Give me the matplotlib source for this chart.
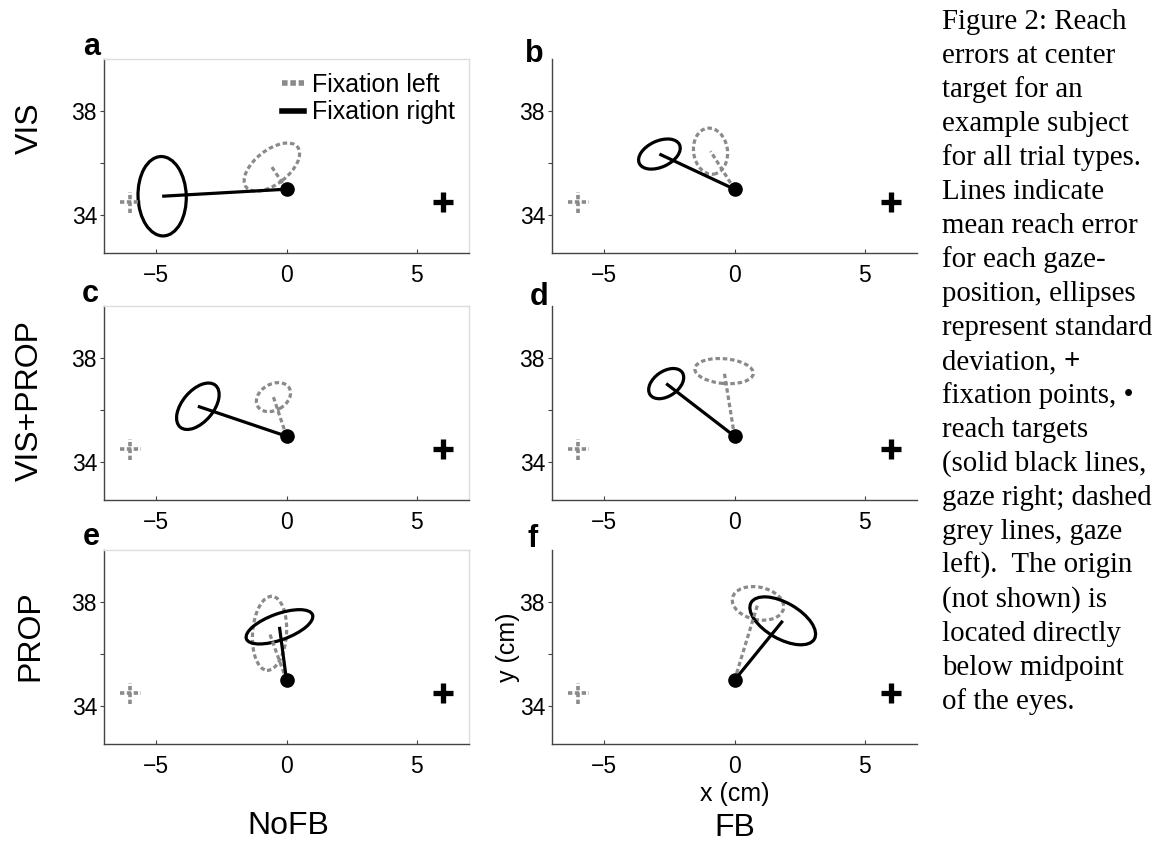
import matplotlib
matplotlib.use("Agg")
import matplotlib.pyplot as plt
from matplotlib.patches import Ellipse
from matplotlib.lines import Line2D

W, H = 1163, 841
plt.rcParams['font.family'] = ['Liberation Sans', 'DejaVu Sans']

# ---------------- data ----------------
panel_letters = ['a', 'b', 'c', 'd', 'e', 'f']
row_labels = ['VIS', 'VIS+PROP', 'PROP']
col_labels = ['NoFB', 'FB']

target_x, target_y = 0.0, 35.0
fix_left_x, fix_left_y = -6.0, 34.5
fix_right_x, fix_right_y = 6.0, 34.5

# Fixation right (solid black): mean reach endpoint and SD ellipse
right_mean_x = [-4.77, -2.88, -3.40, -2.62, -0.27, 1.85]
right_mean_y = [34.73, 36.35, 36.15, 37.02, 37.05, 37.28]
right_ell_w = [1.85, 1.70, 2.10, 1.50, 2.70, 2.80]
right_ell_h = [3.05, 1.00, 1.20, 0.95, 1.00, 1.38]
right_ell_ang = [2, 25, 50, 35, 20, -30]

# Fixation left (dashed grey)
left_mean_x = [-0.56, -0.92, -0.50, -0.40, -0.65, 0.90]
left_mean_y = [35.85, 36.46, 36.50, 37.50, 36.80, 37.95]
left_ell_w = [2.50, 1.30, 1.40, 2.25, 1.30, 2.00]
left_ell_h = [1.30, 1.78, 1.00, 0.95, 2.85, 1.25]
left_ell_ang = [38, 8, 30, -5, -4, -12]

x_ticks = [-5, 0, 5]
y_ticks = [34, 36, 38]
y_ticklabels = ['34', '', '38']

caption_lines = [
    "Figure 2: Reach", "errors at center", "target for an", "example subject",
    "for all trial types.", "Lines indicate", "mean reach error", "for each gaze-",
    "position, ellipses", "represent standard", "deviation,", "fixation points, \u2022",
    "reach targets", "(solid black lines,", "gaze right; dashed", "grey lines, gaze",
    "left).  The origin", "(not shown) is", "located directly", "below midpoint",
    "of the eyes.",
]

# ---------------- style ----------------
GREY = '#8a8a8a'
LW = 2.3
DASH = (0, (1.4, 0.9))

fig = plt.figure(figsize=(W / 100, H / 100), dpi=100)

col_x = [104, 552]
row_top = [59, 306, 550]
ax_w, ax_h = 365, 194


def fx(x):
    return x / W


def fy(y):
    return 1 - y / H


axes = []
for i in range(6):
    r, c = divmod(i, 2)
    ax = fig.add_axes([fx(col_x[c]), fy(row_top[r] + ax_h), ax_w / W, ax_h / H])
    ax.set_xlim(-7, 7)
    ax.set_ylim(32.55, 40.0)
    ax.set_xticks(x_ticks)
    ax.set_xticklabels(['\u22125', '0', '5'])
    ax.set_yticks(y_ticks)
    ax.set_yticklabels(y_ticklabels)
    ax.tick_params(axis='x', direction='in', length=3, width=0.8, colors='#444444',
                   labelcolor='black', labelsize=16.5, pad=8)
    ax.tick_params(axis='y', direction='out', length=3, width=0.8, colors='#444444',
                   labelcolor='black', labelsize=16.5, pad=2)
    for s in ['left', 'bottom']:
        ax.spines[s].set_color('#444444')
        ax.spines[s].set_linewidth(1.0)
    for s in ['top', 'right']:
        if c == 0:
            ax.spines[s].set_color('#dddddd')
            ax.spines[s].set_linewidth(1.0)
        else:
            ax.spines[s].set_visible(False)

    # fixation points
    d = 0.4
    ax.plot([fix_left_x - d, fix_left_x + d], [fix_left_y, fix_left_y], color=GREY,
            lw=2.6, linestyle=(0, (1.2, 0.7)), solid_capstyle='butt')
    ax.plot([fix_left_x, fix_left_x], [fix_left_y - d, fix_left_y + d], color=GREY,
            lw=2.6, linestyle=(0, (1.2, 0.7)), solid_capstyle='butt')
    ax.plot([fix_right_x], [fix_right_y], marker='+', color='black', ms=15, mew=3.8)

    # fixation left (grey dashed)
    ax.plot([target_x, left_mean_x[i]], [target_y, left_mean_y[i]], color=GREY,
            lw=LW, linestyle=DASH)
    ax.add_patch(Ellipse((left_mean_x[i], left_mean_y[i]), left_ell_w[i], left_ell_h[i],
                         angle=left_ell_ang[i], fill=False, edgecolor=GREY, lw=LW,
                         linestyle=DASH))
    # fixation right (black solid)
    ax.plot([target_x, right_mean_x[i]], [target_y, right_mean_y[i]], color='black',
            lw=LW, solid_capstyle='butt')
    ax.add_patch(Ellipse((right_mean_x[i], right_mean_y[i]), right_ell_w[i], right_ell_h[i],
                         angle=right_ell_ang[i], fill=False, edgecolor='black', lw=LW))
    # reach target
    ax.plot([target_x], [target_y], marker='o', color='black', ms=9.5, zorder=5)
    axes.append(ax)

# legend in panel a
handles = [Line2D([], [], color=GREY, lw=4, linestyle=(0, (1.0, 0.5))),
           Line2D([], [], color='black', lw=4)]
axes[0].legend(handles, ['Fixation left', 'Fixation right'], loc='upper right',
               frameon=False, fontsize=18, handlelength=0.85, handletextpad=0.35,
               labelspacing=0.15, borderaxespad=0.15, bbox_to_anchor=(1.0, 1.0))

# axis labels on panel f
axes[5].set_xlabel('x (cm)', fontsize=18, labelpad=3)
axes[5].set_ylabel('y (cm)', fontsize=18, labelpad=0)

# panel letters
letter_pos = [(83, 55), (525, 62), (82, 302), (530, 305), (83, 545), (528, 547)]
for L, (x, y) in zip(panel_letters, letter_pos):
    fig.text(fx(x), fy(y), L, fontsize=22, fontweight='bold', ha='left', va='baseline')

# row labels
row_y = [128, 400, 636]
for lab, y in zip(row_labels, row_y):
    fig.text(fx(30), fy(y), lab, fontsize=23, rotation=90, ha='center', va='center')

# column labels
fig.text(fx(288), fy(826), col_labels[0], fontsize=23, ha='center', va='center')
fig.text(fx(735), fy(828), col_labels[1], fontsize=23, ha='center', va='center')

# caption
cap_font = dict(family=['Liberation Serif', 'DejaVu Serif'], fontsize=20.8)
texts = []
for k, line in enumerate(caption_lines):
    t = fig.text(fx(942), fy(29 + 34 * k), line, ha='left', va='baseline', **cap_font)
    texts.append(t)

fig.canvas.draw()
r = fig.canvas.get_renderer()
bb = texts[10].get_window_extent(renderer=r)
fig.text((bb.x1 + 7) / W, fy(29 + 34 * 10), '+', ha='left', va='baseline',
         fontweight='bold', **cap_font)

fig.savefig('out.png', dpi=100)
